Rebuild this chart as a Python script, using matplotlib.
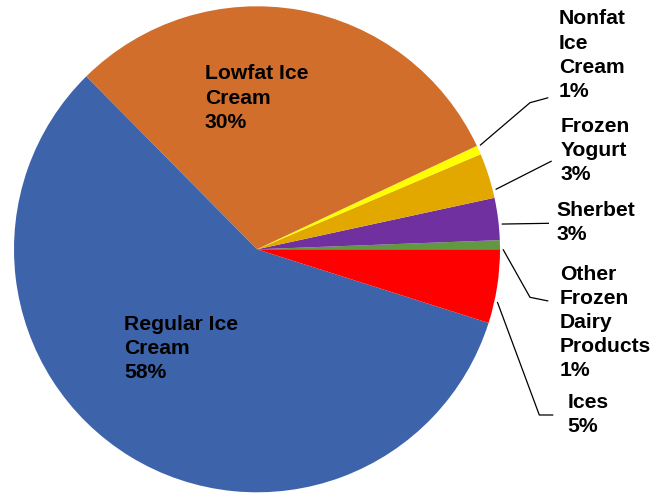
import numpy as np
import matplotlib
matplotlib.use("Agg")
import matplotlib.pyplot as plt

# Data (counter-clockwise order starting at 3 o'clock)
categories = ["Other\nFrozen\nDairy\nProducts", "Sherbet", "Frozen\nYogurt",
              "Nonfat\nIce\nCream", "Lowfat Ice\nCream", "Regular Ice\nCream", "Ices"]
values = [0.6, 2.8, 3.0, 0.6, 30.4, 57.7, 4.9]
colors = ["#629840", "#7030A0", "#E2A800", "#FFFF00", "#D26E2C", "#3D64AB", "#FF0000"]

W, H = 667, 494
fig = plt.figure(figsize=(W / 100, H / 100), dpi=100)
ax = fig.add_axes([0, 0, 1, 1])

cx, cy, R = 257, H - 249.3, 243
wedges, _ = ax.pie(values, colors=colors, startangle=0, counterclock=True,
                   center=(cx, cy), radius=R, frame=True,
                   wedgeprops=dict(linewidth=0))
ax.set_xlim(0, W)
ax.set_ylim(0, H)
ax.set_aspect("equal")
ax.axis("off")

total = sum(values)
font = dict(family=["Liberation Sans", "DejaVu Sans"], fontweight="bold",
            fontsize=15.2, color="black")

# label layout: (left x, top y in pixels, leader path in pixels or None,
#                attachment fraction along the wedge arc)
layout = {
    0: (560, 265, [(530, 297.3), (548.3, 301)], 0.0),
    1: (556.5, 201, [(549, 223.3)], 0.37),
    2: (560.5, 117, [(551.7, 161)], 0.17),
    3: (559, 10, [(530, 102.7), (548.3, 97.7)], 0.9),
    4: (205, 65, None, 0.5),
    5: (124, 315, None, 0.5),
    6: (567.5, 393, [(539.3, 415), (553.3, 415)], 0.3),
}

for i, (w, name, v) in enumerate(zip(wedges, categories, values)):
    pct = int(round(v / total * 100))
    label = f"{name}\n{pct}%"
    lx, ly, path, frac = layout[i]
    ax.text(lx, H - ly + 0.5, label, ha="left", va="top", linespacing=1.34, **font)
    if path is not None:
        ang = np.deg2rad(w.theta1 + frac * (w.theta2 - w.theta1))
        sx = cx + (R + 3) * np.cos(ang)
        sy = cy + (R + 3) * np.sin(ang)
        xs = [sx] + [p[0] for p in path]
        ys = [sy] + [H - p[1] for p in path]
        ax.plot(xs, ys, color="black", lw=0.9, solid_capstyle="butt")

fig.savefig("out.png", dpi=100)
